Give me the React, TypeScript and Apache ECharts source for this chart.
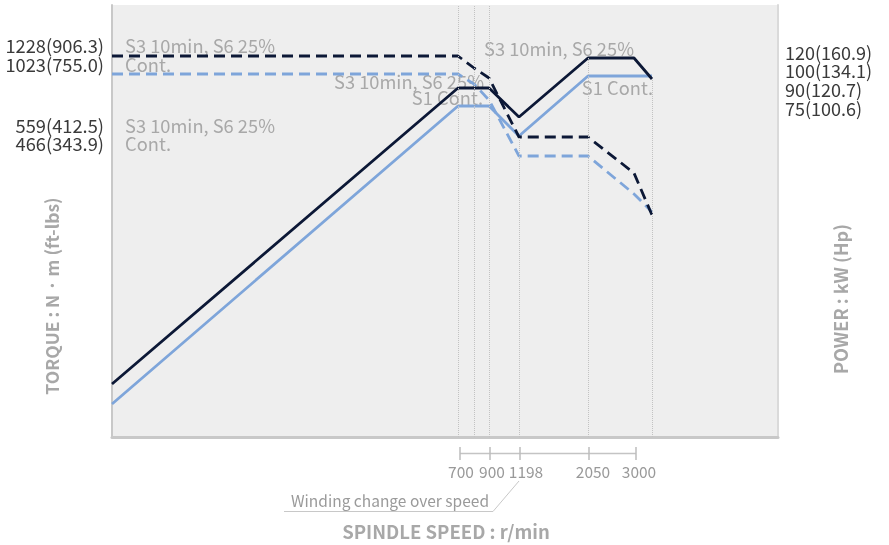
import React, { useEffect, useRef } from "react";
import * as echarts from "echarts";

// Schematic speed positions (plot units) of the curve break points
const torqueX = [0, 346, 362, 377, 407, 476, 522, 540];
const torqueS3 = [381, 381, 369, 359, 300, 300, 264, 222];
const torqueCont = [363, 363, 353, 337, 281, 281, 243, 225];
const powerS3X = [0, 346, 377, 407, 476, 522, 540];
const powerS3 = [53, 349, 349, 320, 379, 379, 358];
const powerS1X = [0, 346, 377, 407, 476, 540];
const powerS1 = [33, 331, 331, 301, 361, 361];

const speedTicks = ["700", "900", "1198", "2050", "3000"];
const speedTickPos = [348, 378, 408, 477, 524];
const speedLabelPos = [349, 380, 414, 481, 527];

const guideFull = [346, 362, 377];
const guidePartialX = [407, 476, 540];
const guidePartialTop = [300, 379, 358];

const torqueLabels = ["1228(906.3)", "1023(755.0)", "559(412.5)", "466(343.9)"];
const torqueLabelPos = [392, 373, 312, 294];
const powerLabels = ["120(160.9)", "100(134.1)", "90(120.7)", "75(100.6)"];
const powerLabelPos = [385, 367, 348, 329];

const FONT = "'Noto Sans CJK KR', 'Noto Sans', sans-serif";
const DARK = "#0c1836";
const LIGHT = "#7ea5da";
const GRAY = "#a8a8a8";

const GRID_LEFT = 112;
const GRID_TOP = 5;
const GRID_W = 666;
const GRID_H = 432;

const zip = (xs: number[], ys: number[]) => xs.map((x, i) => [x, ys[i]]);

export default function App() {
  const ref = useRef<HTMLDivElement>(null);
  useEffect(() => {
    if (!ref.current) return;
    const chart = echarts.init(ref.current, undefined, { renderer: "svg" });
    const annot = (text: string, x: number, y: number, align: string = "left") => ({
      type: "text",
      x,
      y,
      z: 1,
      silent: true,
      style: { text, fill: GRAY, font: `18.3px ${FONT}`, lineHeight: 17, align, verticalAlign: "middle" },
    });
    const yPix = (v: number) => GRID_TOP + GRID_H - v;
    const valueLabel = (text: string, x: number, v: number, align: string, size: number) => ({
      type: "text",
      x,
      y: yPix(v),
      silent: true,
      style: { text, fill: "#3a3a3a", font: `${size}px ${FONT}`, lineHeight: 17, align, verticalAlign: "middle" },
    });
    chart.setOption({
      animation: false,
      textStyle: { fontFamily: FONT },
      grid: [
        { left: GRID_LEFT, top: GRID_TOP, width: GRID_W, height: GRID_H, show: true, backgroundColor: "#eeeeee", borderWidth: 0 },
        { left: GRID_LEFT, top: 447, width: GRID_W, height: 13, show: false },
      ],
      xAxis: [
        {
          type: "value", gridIndex: 0, min: 0, max: GRID_W,
          axisLine: { show: true, onZero: false, lineStyle: { color: "#c8c8c8", width: 3 } },
          axisTick: { show: false }, axisLabel: { show: false }, splitLine: { show: false },
        },
        {
          type: "value", gridIndex: 1, min: 0, max: GRID_W,
          axisLine: { show: false }, axisTick: { show: false }, splitLine: { show: false },
          axisLabel: {
            show: true, customValues: speedLabelPos, margin: 3, color: "#999", fontSize: 15.5, fontFamily: FONT,
            hideOverlap: false,
            formatter: (v: number) => speedTicks[speedLabelPos.indexOf(v)] ?? "",
          },
        },
      ],
      yAxis: [
        {
          type: "value", gridIndex: 0, min: 0, max: GRID_H, position: "left",
          axisLine: { show: true, onZero: false, lineStyle: { color: "#c8c8c8", width: 2 } },
          axisTick: { show: false }, splitLine: { show: false }, axisLabel: { show: false },
        },
        {
          type: "value", gridIndex: 0, min: 0, max: GRID_H, position: "right",
          axisLine: { show: true, onZero: false, lineStyle: { color: "#dadada", width: 2 } },
          axisTick: { show: false }, splitLine: { show: false }, axisLabel: { show: false },
        },
        { type: "value", gridIndex: 1, min: 0, max: 2, show: false },
      ],
      series: [
        {
          type: "line", xAxisIndex: 0, yAxisIndex: 0, data: zip(powerS1X, powerS1),
          showSymbol: false, symbol: "none", lineStyle: { color: LIGHT, width: 2.8 }, silent: true,
          markLine: {
            silent: true, symbol: ["none", "none"], label: { show: false },
            lineStyle: { type: "dotted", color: "#c2c2c2", width: 1 },
            data: [
              ...guideFull.map((x) => ({ xAxis: x })),
              ...guidePartialX.map((x, i) => [{ coord: [x, 0] }, { coord: [x, guidePartialTop[i]] }]),
            ],
          },
        },
        {
          type: "line", xAxisIndex: 0, yAxisIndex: 0, data: zip(torqueX, torqueCont),
          showSymbol: false, symbol: "none", lineStyle: { color: LIGHT, width: 2.8, type: [11, 6] }, silent: true,
        },
        {
          type: "line", xAxisIndex: 0, yAxisIndex: 0, data: zip(powerS3X, powerS3),
          showSymbol: false, symbol: "none", lineStyle: { color: DARK, width: 2.8 }, silent: true,
        },
        {
          type: "line", xAxisIndex: 0, yAxisIndex: 0, data: zip(torqueX, torqueS3),
          showSymbol: false, symbol: "none", lineStyle: { color: DARK, width: 2.8, type: [11, 6] }, silent: true,
        },
        {
          type: "line", xAxisIndex: 1, yAxisIndex: 2,
          data: [[speedTickPos[0], 1], [speedTickPos[speedTickPos.length - 1], 1]],
          showSymbol: false, symbol: "none", lineStyle: { color: "#c4c4c4", width: 1.5 }, silent: true,
          markLine: {
            silent: true, symbol: ["none", "none"], label: { show: false },
            lineStyle: { type: "solid", color: "#bdbdbd", width: 1.5 },
            data: speedTickPos.map((x) => ({ xAxis: x })),
          },
        },
      ],
      graphic: [
        ...torqueLabels.map((t, i) => valueLabel(t, GRID_LEFT - 8, torqueLabelPos[i], "right", 18.3)),
        ...powerLabels.map((t, i) => valueLabel(t, GRID_LEFT + GRID_W + 7, powerLabelPos[i], "left", 18)),
        annot("S3 10min, S6 25%", 125, 45),
        annot("Cont.", 125, 64),
        annot("S3 10min, S6 25%", 125, 125),
        annot("Cont.", 125, 143),
        annot("S3 10min, S6 25%", 484, 81, "right"),
        annot("S1 Cont.", 483, 97, "right"),
        annot("S3 10min, S6 25%", 484, 48),
        annot("S1 Cont.", 653, 87, "right"),
        {
          type: "text", x: 51, y: 296, rotation: Math.PI / 2, silent: true,
          style: { text: "TORQUE : N · m (ft-lbs)", fill: GRAY, font: `bold 17.5px ${FONT}`, align: "center", verticalAlign: "middle" },
        },
        {
          type: "text", x: 840, y: 299, rotation: Math.PI / 2, silent: true,
          style: { text: "POWER : kW (Hp)", fill: GRAY, font: `bold 18px ${FONT}`, align: "center", verticalAlign: "middle" },
        },
        {
          type: "text", x: 446, y: 531, silent: true,
          style: { text: "SPINDLE SPEED : r/min", fill: GRAY, font: `bold 18.5px ${FONT}`, align: "center", verticalAlign: "middle" },
        },
        {
          type: "text", x: 390, y: 500, silent: true,
          style: { text: "Winding change over speed", fill: "#9a9a9a", font: `15.5px ${FONT}`, align: "center", verticalAlign: "middle" },
        },
        {
          type: "polyline", silent: true,
          shape: { points: [[284, 511.5], [493, 511.5], [519, 481]] },
          style: { stroke: "#c8c8c8", lineWidth: 1, fill: "none" },
        },
      ],
    });
    return () => chart.dispose();
  }, []);
  return <div ref={ref} style={{ position: "fixed", left: 0, top: 0, width: 889, height: 545 }} />;
}
